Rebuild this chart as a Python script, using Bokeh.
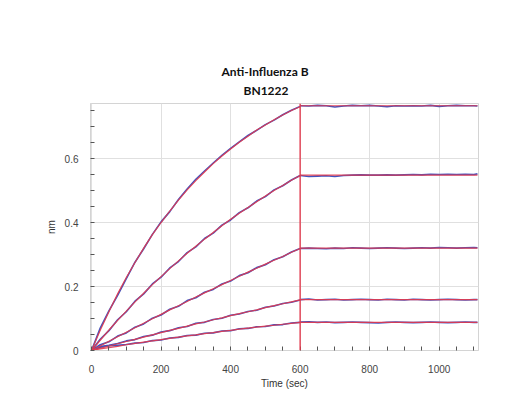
from bokeh.plotting import figure
from bokeh.models import FixedTicker, Span, Title, Range1d
from bokeh.embed import file_html
from bokeh.resources import INLINE

# ---- data ----
t_assoc = [0, 25, 50, 75, 100, 125, 150, 175, 200, 225, 250, 275, 300,
           325, 350, 375, 400, 425, 450, 475, 500, 525, 550, 575, 600]
t_dissoc = [600, 625, 650, 675, 700, 725, 750, 775, 800, 825, 850, 875,
            900, 925, 950, 975, 1000, 1025, 1050, 1075, 1100, 1110]
t_fit_dissoc = [600, 1110]
switch_time = 600

fit1 = [0, .063, .121, .177, .228, .275, .320, .362, .400, .436, .470, .502, .531,
        .558, .584, .608, .630, .651, .670, .689, .705, .721, .736, .750, .762]
raw1 = [0, .070, .124, .172, .225, .276, .318, .363, .402, .434, .472, .505, .535,
        .561, .586, .610, .632, .652, .672, .688, .706, .720, .737, .751, .763]
raw1_d = [.765, .764, .766, .765, .761, .764, .766, .765, .766, .764, .762, .765,
          .764, .765, .764, .766, .763, .765, .766, .765, .765, .764]

fit2 = [0, .032, .064, .094, .123, .152, .179, .206, .231, .256, .280, .304, .326,
        .348, .369, .390, .410, .429, .447, .465, .483, .500, .516, .532, .547]
raw2 = [0, .035, .062, .096, .121, .154, .177, .208, .229, .258, .278, .306, .324,
        .350, .367, .392, .408, .431, .446, .467, .481, .502, .515, .533, .547]
raw2_d = [.547, .544, .545, .546, .544, .547, .548, .549, .548, .548, .549, .548,
          .549, .550, .549, .551, .550, .551, .550, .551, .550, .552]

fit3 = [0, .014, .029, .043, .057, .071, .085, .099, .113, .127, .140, .153, .167,
        .180, .193, .206, .219, .232, .245, .257, .270, .282, .294, .307, .319]
raw3 = [0, .018, .027, .045, .055, .073, .083, .101, .111, .129, .138, .156, .165,
        .182, .191, .208, .217, .234, .243, .259, .268, .284, .293, .308, .319]
raw3_d = [.319, .320, .319, .318, .320, .319, .321, .320, .319, .320, .321, .320,
          .319, .320, .321, .320, .322, .321, .320, .321, .322, .321]

fit4 = [0, .007, .014, .021, .028, .035, .042, .049, .056, .063, .069, .076, .083,
        .089, .096, .102, .109, .115, .121, .127, .134, .140, .146, .152, .158]
raw4 = [0, .012, .016, .022, .030, .034, .044, .048, .058, .062, .071, .075, .085,
        .088, .097, .101, .110, .114, .122, .126, .135, .139, .147, .151, .158]
raw4_d = [.159, .161, .158, .159, .160, .158, .159, .160, .159, .158, .160, .159,
          .158, .160, .159, .158, .159, .160, .159, .158, .159, .159]

fit5 = [0, .005, .009, .013, .018, .022, .026, .030, .034, .038, .042, .046, .049,
        .053, .056, .060, .063, .067, .070, .073, .076, .079, .082, .085, .088]
raw5 = [0, .010, .015, .016, .019, .023, .025, .031, .033, .039, .041, .047, .048,
        .054, .055, .061, .062, .068, .069, .074, .075, .080, .081, .086, .088]
raw5_d = [.089, .090, .088, .089, .087, .088, .089, .088, .087, .086, .088, .089,
          .088, .087, .088, .089, .088, .087, .088, .089, .088, .088]

plateaus = [.765, .548, .320, .159, .088]

x_ticks = [0, 200, 400, 600, 800, 1000]
x_minor = [50, 100, 150, 250, 300, 350, 450, 500, 550, 650, 700, 750,
           850, 900, 950, 1050, 1100]
y_ticks = [0, 0.2, 0.4, 0.6]
y_minor = [0.05, 0.1, 0.15, 0.25, 0.3, 0.35, 0.45, 0.5, 0.55, 0.65, 0.7, 0.75]
y_tick_labels = {0: "0", 0.2: "0.2", 0.4: "0.4", 0.6: "0.6"}

title_lines = ["Anti-Influenza B", "BN1222"]

BLUE = "#4353bd"
RED = "#e2384c"

p = figure(width=508, height=391, output_backend="svg", toolbar_location=None,
           x_range=Range1d(-3, 1113), y_range=Range1d(0, 0.772),
           min_border_left=90, min_border_right=30, min_border_top=103,
           min_border_bottom=41)
p.outline_line_color = "#d4d4d4"
p.background_fill_color = "white"
p.border_fill_color = "white"

raws = [(raw1, raw1_d), (raw2, raw2_d), (raw3, raw3_d), (raw4, raw4_d), (raw5, raw5_d)]
fits = [fit1, fit2, fit3, fit4, fit5]

for ra, rd in raws:
    p.line(t_assoc, ra, line_color=BLUE, line_width=1.6)
    p.line(t_dissoc, rd, line_color=BLUE, line_width=1.6)

for f, pl in zip(fits, plateaus):
    p.line(t_assoc, f, line_color=RED, line_width=1.2, line_alpha=0.9)
    p.line(t_fit_dissoc, [pl, pl], line_color=RED, line_width=1.2, line_alpha=0.9)

p.add_layout(Span(location=switch_time, dimension="height", line_color=RED,
                  line_width=1.5, line_alpha=0.9))

# axes
for ax in (p.xaxis[0], p.yaxis[0]):
    ax.axis_line_color = "#d4d4d4"
    ax.major_tick_in = 4
    ax.major_tick_out = 0
    ax.minor_tick_in = 4
    ax.minor_tick_out = 0
    ax.major_tick_line_color = "#555555"
    ax.minor_tick_line_color = "#555555"
    ax.major_label_text_font = "Liberation Sans"
    ax.major_label_text_font_size = "10px"
    ax.major_label_text_color = "#444444"
    ax.axis_label_text_font = "Liberation Sans"
    ax.axis_label_text_font_size = "10px"
    ax.axis_label_text_font_style = "normal"
    ax.axis_label_text_color = "#333333"

p.xaxis.ticker = FixedTicker(ticks=x_ticks, minor_ticks=x_minor)
p.yaxis.ticker = FixedTicker(ticks=y_ticks, minor_ticks=y_minor)
p.yaxis.major_label_overrides = y_tick_labels
p.xaxis.axis_label = "Time (sec)"
p.yaxis.axis_label = "nm"
p.xaxis.major_label_standoff = 14
p.yaxis.major_label_standoff = 12
p.xaxis.axis_label_standoff = 2
p.yaxis.axis_label_standoff = 5

p.xgrid.grid_line_color = "#e0e0e0"
p.ygrid.grid_line_color = "#e0e0e0"
p.xgrid.ticker = FixedTicker(ticks=x_ticks)
p.ygrid.ticker = FixedTicker(ticks=y_ticks)

p.add_layout(Title(text=title_lines[1], align="left", offset=153, text_font="Lato",
                   text_font_style="bold", text_font_size="12px",
                   text_color="#111111", vertical_align="top", standoff=8),
             "above")
p.add_layout(Title(text=title_lines[0], align="left", offset=131, text_font="Lato",
                   text_font_style="bold", text_font_size="12px",
                   text_color="#111111", vertical_align="bottom", standoff=0),
             "above")

open("out.html", "w").write(file_html(p, INLINE))
